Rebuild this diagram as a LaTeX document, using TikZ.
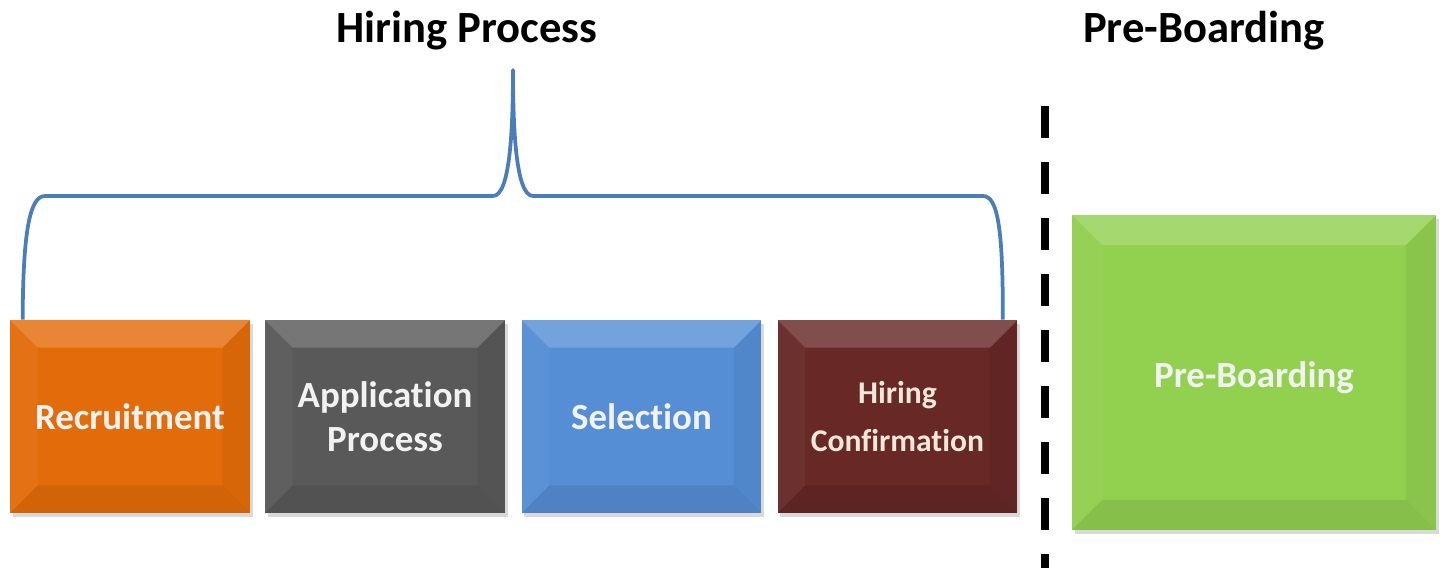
\documentclass[tikz,border=0pt]{standalone}
\usepackage{fontspec}
\setmainfont[Ligatures=NoCommon]{Carlito}
\usetikzlibrary{shadows}
\definecolor{cOrange}{HTML}{E36C0A}
\definecolor{cGray}{HTML}{595959}
\definecolor{cBlue}{HTML}{558ED5}
\definecolor{cMaroon}{HTML}{672826}
\definecolor{cGreen}{HTML}{92D050}
\definecolor{cLine}{HTML}{4A7EBB}
\definecolor{cText}{HTML}{F2F2F2}
\definecolor{cBeige}{HTML}{F2E8DA}
\tikzset{
  bevel/.style={path picture={
    \coordinate (NW) at (path picture bounding box.north west);
    \coordinate (NE) at (path picture bounding box.north east);
    \coordinate (SW) at (path picture bounding box.south west);
    \coordinate (SE) at (path picture bounding box.south east);
    \fill[white,opacity=0.18] (NW) -- (NE) -- ([shift={(-#1,-#1)}]NE) -- ([shift={(#1,-#1)}]NW) -- cycle;
    \fill[white,opacity=0.04] (NW) -- ([shift={(#1,-#1)}]NW) -- ([shift={(#1,#1)}]SW) -- (SW) -- cycle;
    \fill[black,opacity=0.05] (NE) -- (SE) -- ([shift={(-#1,#1)}]SE) -- ([shift={(-#1,-#1)}]NE) -- cycle;
    \fill[black,opacity=0.08] (SW) -- ([shift={(#1,#1)}]SW) -- ([shift={(-#1,#1)}]SE) -- (SE) -- cycle;
  }},
  bevel/.default=0.55cm,
  procbox/.style={rectangle, minimum width=4.8cm, minimum height=3.86cm, inner sep=0pt,
    align=center, text=cText, font=\fontsize{21}{25}\selectfont\bfseries,
    drop shadow={shadow xshift=1.5pt, shadow yshift=-2.5pt, opacity=0.25, fill=black!60}},
  title/.style={font=\fontsize{25.4}{30}\selectfont\bfseries, text=black},
  bracket/.style={draw=cLine, line width=0.075cm, line join=round},
  divider/.style={draw=black, line width=0.15cm, dash pattern=on 0.64cm off 0.48cm}
}
\begin{document}
\begin{tikzpicture}[x=0.02cm,y=-0.02cm]
\useasboundingbox (0,0) rectangle (1440,568);
\node[title] (t1) at (467,31) {Hiring Process};
\node[title] (t2) at (1204,31) {Pre-Boarding};
\node[procbox, fill=cOrange, bevel] (rec) at (130,416.5) {Recruitment};
\node[procbox, fill=cGray, bevel] (app) at (385,416.5) {Application\\Process};
\node[procbox, fill=cBlue, bevel] (sel) at (641.5,416.5) {Selection};
\node[procbox, fill=cMaroon, bevel, text=cBeige, font=\fontsize{18}{27}\selectfont\bfseries] (hc) at (897.5,416.5) {Hiring\\Confirmation};
\node[procbox, fill=cGreen, bevel=0.6cm, minimum width=7.28cm, minimum height=6.3cm] (pb) at (1254,372.5) {\raisebox{-0.1cm}[\height][\depth]{Pre-Boarding}};
\draw[bracket] ([xshift=0.26cm]rec.north west) .. controls (23,230) and (30,196) .. (45,196)
  -- (493,196) .. controls (510,196) and (513,130) .. (513,70)
  .. controls (513,130) and (516,196) .. (533,196)
  -- (983,196) .. controls (998,196) and (1003,230) .. ([xshift=-0.3cm]hc.north east);
\coordinate (dtop) at (1045,106);
\coordinate (dbot) at (1045,568);
\draw[divider] (dtop) -- (dbot);
\end{tikzpicture}
\end{document}
